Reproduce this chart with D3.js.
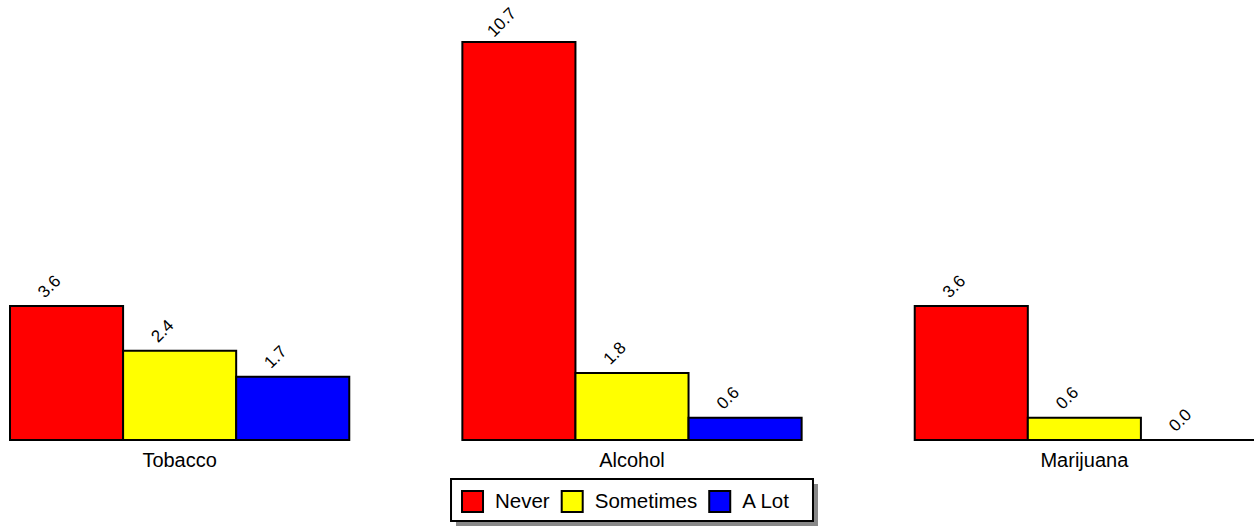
<!DOCTYPE html>
<html>
<head>
<meta charset="utf-8">
<script src="https://cdn.jsdelivr.net/npm/d3@7"></script>
<style>
  body { margin: 0; background: #fff; }
  text { font-family: "Liberation Sans", Arial, sans-serif; }
</style>
</head>
<body>
<div id="chart"></div>
<script>
var categories = ["Tobacco", "Alcohol", "Marijuana"],
    seriesNames = ["Never", "Sometimes", "A Lot"],
    seriesColors = ["#ff0000", "#ffff00", "#0000ff"],
    never = [3.6, 10.7, 3.6],
    sometimes = [2.4, 1.8, 0.6],
    aLot = [1.7, 0.6, 0.0];

function createChart(container) {
    "use strict";

    var width = 1254,
        height = 527,
        baseline = 440,
        top = 42,
        series = [never, sometimes, aLot],

        svg = container.append("svg")
            .attr("width", width)
            .attr("height", height),

        // group and bar scales
        x0 = d3.scaleBand()
            .domain(categories)
            .range([10, width])
            .paddingInner(0.25)
            .paddingOuter(0),
        x1 = d3.scaleBand()
            .domain(d3.range(seriesNames.length))
            .range([0, x0.bandwidth()]),
        y = d3.scaleLinear()
            .domain([0, d3.max(series, function (s) { return d3.max(s); })])
            .range([baseline, top]),
        fmt = d3.format(".1f");

    function cells(d, i) {
        return series.map(function (s, k) { return {k: k, v: s[i]}; });
    }

    var groups = svg.selectAll("g.group")
        .data(categories)
        .enter().append("g")
        .attr("class", "group")
        .attr("transform", function (d) { return "translate(" + x0(d) + ",0)"; });

    // bars as paths so a zero value still shows its outline
    groups.selectAll("path")
        .data(cells)
        .enter().append("path")
        .attr("d", function (d) {
            var bx = x1(d.k), bw = x1.bandwidth(), by = y(d.v);
            return "M" + bx + "," + baseline + "V" + by + "H" + (bx + bw) +
                "V" + baseline + "Z";
        })
        .attr("fill", function (d) { return seriesColors[d.k]; })
        .attr("stroke", "#000")
        .attr("stroke-width", 2);

    // value labels, rotated
    groups.selectAll("text.value")
        .data(cells)
        .enter().append("text")
        .attr("class", "value")
        .attr("transform", function (d) {
            var cx = x1(d.k) + x1.bandwidth() * 0.345,
                cy = y(d.v) - 20;
            return "translate(" + cx + "," + cy + ") rotate(-45)";
        })
        .attr("text-anchor", "middle")
        .attr("dy", "0.35em")
        .style("font-size", "17px")
        .attr("fill", "#000")
        .text(function (d) { return fmt(d.v); });

    // category labels
    groups.append("text")
        .attr("x", x0.bandwidth() / 2)
        .attr("y", 467)
        .attr("text-anchor", "middle")
        .style("font-size", "20px")
        .text(function (d) { return d; });

    // legend
    var legend = svg.append("g"),
        shadow = legend.append("rect"),
        box = legend.append("rect"),
        pos = 11,
        items = legend.selectAll("g.item")
            .data(seriesNames)
            .enter().append("g")
            .attr("class", "item");

    items.append("rect")
        .attr("y", 12)
        .attr("width", 21)
        .attr("height", 21)
        .attr("fill", function (d, i) { return seriesColors[i]; })
        .attr("stroke", "#000")
        .attr("stroke-width", 2);
    items.append("text")
        .attr("x", 33)
        .attr("y", 29)
        .style("font-size", "20.5px")
        .text(function (d) { return d; });

    items.each(function () {
        var g = d3.select(this),
            w = g.select("text").node().getComputedTextLength();
        g.attr("transform", "translate(" + pos + ",0)");
        pos += 33 + w + 12;
    });
    var legendWidth = pos + 12;

    shadow.attr("x", 5).attr("y", 5)
        .attr("width", legendWidth).attr("height", 42)
        .attr("fill", "#888");
    box.attr("width", legendWidth).attr("height", 42)
        .attr("fill", "#fff")
        .attr("stroke", "#000")
        .attr("stroke-width", 2);

    legend.attr("transform", "translate(" +
        (x0("Alcohol") + x0.bandwidth() / 2 - legendWidth / 2) + ",479)");
}

createChart(d3.select("#chart"));
</script>
</body>
</html>
